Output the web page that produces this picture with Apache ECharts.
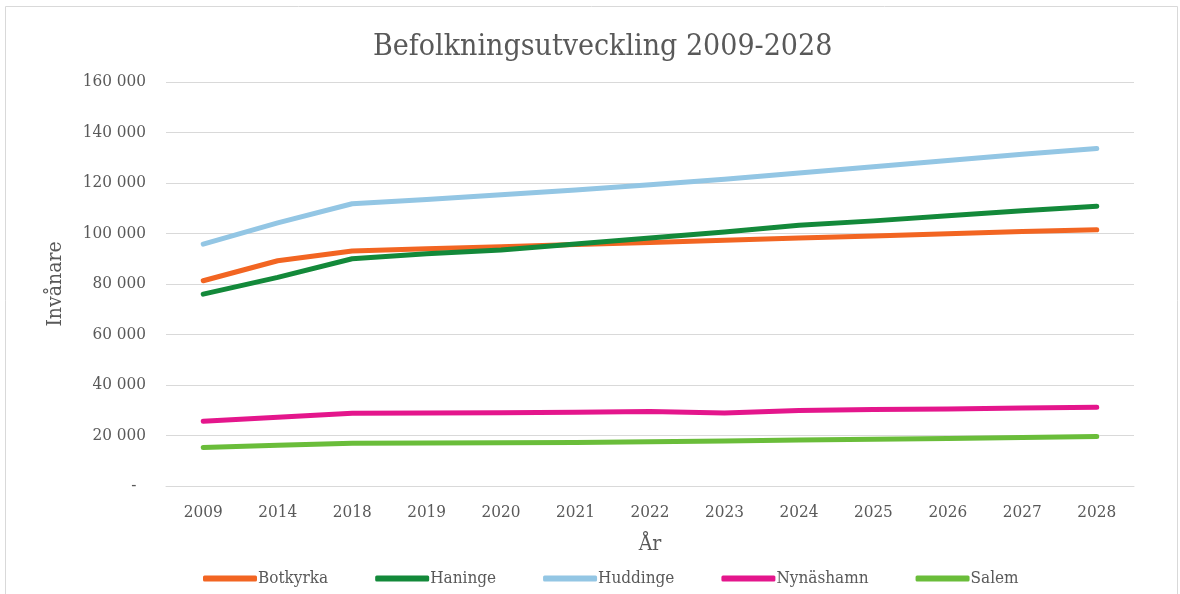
<!DOCTYPE html>
<html><head><meta charset="utf-8">
<script src="https://cdn.jsdelivr.net/npm/echarts@6/dist/echarts.min.js"></script>
<style>html,body{margin:0;padding:0;background:#fff}#c{width:1180px;height:594px}</style>
</head><body><div id="c"></div>
<script>
const years = ['2009','2014','2018','2019','2020','2021','2022','2023','2024','2025','2026','2027','2028'];
const botkyrka  = [81300, 89200, 93100, 94000, 94800, 95600, 96400, 97300, 98200, 99000, 99900, 100800, 101500];
const haninge   = [76000, 82600, 90000, 92000, 93500, 95800, 98200, 100600, 103300, 105000, 107000, 109000, 110800];
const huddinge  = [95800, 104200, 111800, 113500, 115300, 117200, 119300, 121500, 124000, 126400, 128900, 131400, 133700];
const nynashamn = [25600, 27200, 28800, 28900, 29000, 29200, 29500, 28900, 29900, 30300, 30500, 30900, 31200];
const salem     = [15200, 16100, 16900, 17000, 17100, 17200, 17500, 17800, 18200, 18500, 18800, 19200, 19600];
const seriesNames = ['Botkyrka','Haninge','Huddinge','Nynäshamn','Salem'];
const seriesData = [botkyrka, haninge, huddinge, nynashamn, salem];
const colors = ['#f26522','#13893a','#93c6e4','#e4168c','#6abd3a'];

const font = '"DejaVu Serif Condensed","DejaVu Serif",serif';
const chart = echarts.init(document.getElementById('c'));
chart.setOption({
  animation: false,
  color: colors,
  graphic: [{type:'rect', shape:{x:5.5,y:6.5,width:1172,height:600}, style:{fill:'none', stroke:'#d9d9d9', lineWidth:1}}],
  title: {text:'Befolkningsutveckling 2009-2028', left:368, top:27,
    textStyle:{fontFamily:font, fontSize:30, fontWeight:'normal', color:'#595959'}},
  grid: {left:166, right:46, top:82, bottom:108},
  legend: {bottom:2, left:198, itemWidth:54, itemHeight:6, itemGap:47, icon:'roundRect',
    textStyle:{fontFamily:font, fontSize:17, color:'#595959', padding:[0,0,0,-4]},
    data: seriesNames},
  xAxis: {type:'category', data:years, boundaryGap:true,
    name:'År', nameLocation:'middle', nameGap:48,
    nameTextStyle:{fontFamily:font, fontSize:21, color:'#595959'},
    axisLine:{lineStyle:{color:'#d9d9d9', width:1}}, axisTick:{show:false},
    axisLabel:{fontFamily:font, fontSize:17, color:'#595959', margin:18}},
  yAxis: {type:'value', min:0, max:160000, interval:20000,
    name:'Invånare', nameLocation:'middle', nameGap:100,
    nameTextStyle:{fontFamily:font, fontSize:21, color:'#595959'},
    axisLine:{show:false}, axisTick:{show:false},
    splitLine:{lineStyle:{color:'#d9d9d9', width:1}},
    axisLabel:{fontFamily:font, fontSize:17, color:'#595959', margin:20,
      formatter: v => v === 0 ? '-  ' : String(v).replace(/\B(?=(\d{3})+(?!\d))/g, ' ')}},
  series: seriesNames.map((n,i) => ({name:n, type:'line', data:seriesData[i], showSymbol:false, symbol:'none',
    lineStyle:{width:5, cap:'round', join:'round'}}))
});
</script></body></html>
